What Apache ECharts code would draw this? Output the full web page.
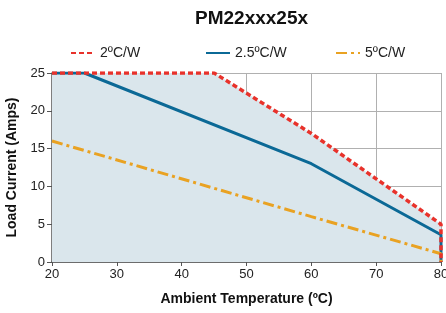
<!DOCTYPE html>
<html>
<head>
<meta charset="utf-8">
<script src="https://cdn.jsdelivr.net/npm/echarts@6/dist/echarts.min.js"></script>
<style>
html, body { margin: 0; padding: 0; background: #fff; }
#chart { width: 446px; height: 313px; }
</style>
</head>
<body>
<div id="chart"></div>
<script>
// 数据
var seriesNames = ['2ºC/W', '2.5ºC/W', '5ºC/W'];
var red2 = [[20, 25], [45, 25], [60, 17], [80, 5], [80, 0]];
var blue25 = [[20, 25], [25, 25], [60, 13], [80, 3.6], [80, 0]];
var orange5 = [[20, 16], [60, 6], [80, 1.1], [80, 0]];
var xTicks = [20, 30, 40, 50, 60, 70, 80];
var yTicks = [0, 5, 10, 15, 20, 25];

var font = '"Liberation Sans", Arial, sans-serif';
var myChart = echarts.init(document.getElementById('chart'));

function legendAt(name, left) {
    return {
        data: [name],
        left: left,
        top: 41,
        itemWidth: 24,
        itemHeight: 10,
        itemGap: 5,
        itemStyle: { opacity: 0 },
        textStyle: { fontFamily: font, fontSize: 14, color: '#222' }
    };
}

var option = {
    animation: false,
    title: {
        text: 'PM22xxx25x',
        left: 190,
        top: 4,
        textStyle: { fontFamily: font, fontSize: 19, fontWeight: 'bold', color: '#111' }
    },
    legend: [
        legendAt(seriesNames[0], 65),
        legendAt(seriesNames[1], 200),
        legendAt(seriesNames[2], 330)
    ],
    grid: { left: 52, right: 5, top: 73, bottom: 51, outerBoundsMode: 'none', containLabel: false },
    xAxis: {
        type: 'value',
        min: xTicks[0],
        max: xTicks[xTicks.length - 1],
        interval: 10,
        name: 'Ambient Temperature (ºC)',
        nameLocation: 'middle',
        nameGap: 30,
        nameTextStyle: { fontFamily: font, fontSize: 14, fontWeight: 'bold', color: '#111' },
        axisLine: { lineStyle: { color: '#555', width: 1.5 } },
        axisTick: { show: true, length: 4, lineStyle: { color: '#555' } },
        axisLabel: { fontFamily: font, fontSize: 13, color: '#222', margin: 6 },
        splitLine: { show: true, lineStyle: { color: '#b0b0b0', width: 1 } }
    },
    yAxis: {
        type: 'value',
        min: yTicks[0],
        max: yTicks[yTicks.length - 1],
        interval: 5,
        name: 'Load Current (Amps)',
        nameLocation: 'middle',
        nameGap: 28,
        nameTextStyle: { fontFamily: font, fontSize: 14, fontWeight: 'bold', color: '#111' },
        axisLine: { show: true, lineStyle: { color: '#555', width: 1.5 } },
        axisTick: { show: true, length: 5, lineStyle: { color: '#555' } },
        axisLabel: { fontFamily: font, fontSize: 13, color: '#222', margin: 7 },
        splitLine: { show: true, lineStyle: { color: '#b0b0b0', width: 1 } }
    },
    series: [
        {
            name: 'fill',
            type: 'line',
            data: red2,
            symbol: 'none',
            lineStyle: { width: 0 },
            areaStyle: { color: '#dae6ec', opacity: 1 },
            z: 1
        },
        {
            name: seriesNames[1],
            type: 'line',
            data: blue25,
            symbol: 'none',
            color: '#0b6996',
            lineStyle: { color: '#0b6996', width: 3 },
            z: 3
        },
        {
            name: seriesNames[2],
            type: 'line',
            data: orange5,
            symbol: 'none',
            color: '#e9a222',
            lineStyle: { color: '#e9a222', width: 3, type: [11, 4, 3, 4] },
            z: 3
        },
        {
            name: seriesNames[0],
            type: 'line',
            data: red2,
            symbol: 'none',
            color: '#e8322b',
            lineStyle: { color: '#e8322b', width: 3.5, type: [5, 3] },
            z: 4
        }
    ]
};
myChart.setOption(option);
window.addEventListener('resize', function () {
    myChart.resize();
});
</script>
</body>
</html>
